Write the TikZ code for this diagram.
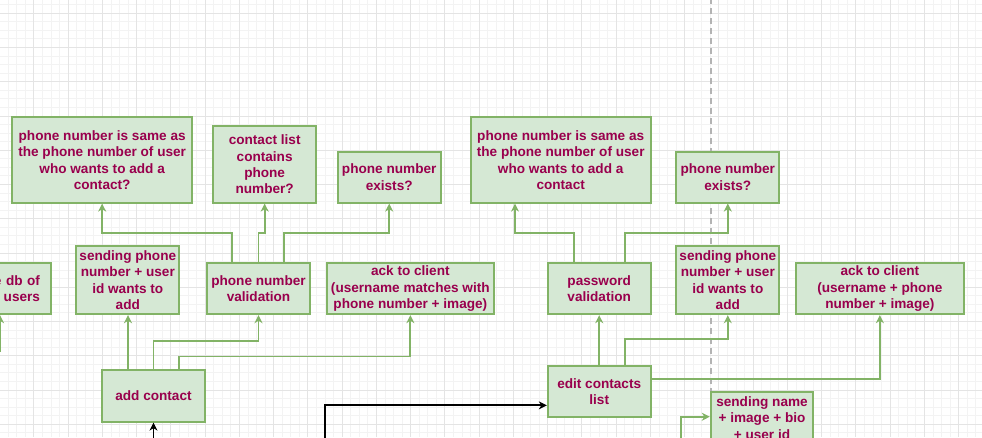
\documentclass[tikz,border=0pt]{standalone}
\usepackage{fontspec}
\setmainfont{Liberation Sans}
\usetikzlibrary{arrows.meta}
\definecolor{boxfill}{HTML}{D5E8D4}
\definecolor{boxline}{HTML}{82B366}
\definecolor{txt}{HTML}{99004D}
\definecolor{gridminor}{HTML}{F3F3F3}
\definecolor{gridmajor}{HTML}{E4E4E4}
\definecolor{sepline}{HTML}{B3B3B3}
\tikzset{
  box/.style={draw=boxline, fill=boxfill, line width=1.8pt, text=txt,
    font=\fontsize{13.6}{16.3}\selectfont\bfseries, align=center, inner sep=0pt},
  arr/.style={draw=boxline, line width=1.8pt, -{Stealth[length=8pt,width=8pt,inset=2.5pt]}},
  blk/.style={draw=black, line width=1.8pt, -{Stealth[length=8pt,width=8pt,inset=2.5pt]}},
  minorgrid/.style={draw=gridminor, line width=1pt},
  majorgrid/.style={draw=gridmajor, line width=1pt},
  sepstyle/.style={draw=sepline, line width=1.5pt, dash pattern=on 6pt off 4pt, dash phase=2pt}
}
\begin{document}
\begin{tikzpicture}[x=1pt,y=-1pt]
\useasboundingbox (0,0) rectangle (982,437);
\clip (0,0) rectangle (982,437);
\fill[white] (0,0) rectangle (982,437);
% grid
\foreach \i in {0,...,116} {\draw[minorgrid] ({-0.3+8.5625*\i},0) -- ({-0.3+8.5625*\i},437);}
\foreach \j in {0,...,51} {\draw[minorgrid] (0,{4.74+8.5625*\j}) -- (982,{4.74+8.5625*\j});}
\foreach \i in {0,...,29} {\draw[majorgrid] ({-0.3+34.25*\i},0) -- ({-0.3+34.25*\i},437);}
\foreach \j in {0,...,13} {\draw[majorgrid] (0,{13.3+34.25*\j}) -- (982,{13.3+34.25*\j});}
% separator
\coordinate (septop) at (711,0);
\coordinate (sepbot) at (711,437);
\draw[sepstyle] (septop) -- (sepbot);
% boxes
\node[box, minimum width=180.3pt, minimum height=85.4pt] (A) at (102.15,160) {phone number is same as\\the phone number of user\\who wants to add a\\contact?};
\node[box, minimum width=102.7pt, minimum height=76.7pt] (B) at (264.65,164.35) {contact list\\contains\\phone\\number?};
\node[box, minimum width=103pt, minimum height=51pt] (C) at (389.2,177.2) {phone number\\exists?};
\node[box, minimum width=103pt, minimum height=51pt, text width=81pt, align=right] (D) at (-0.5,288.8) {e db of\\users};
\node[box, minimum width=103pt, minimum height=68.6pt] (E) at (127.8,280) {sending phone\\number + user\\id wants to\\add};
\node[box, minimum width=103pt, minimum height=51pt] (F) at (258.5,288.8) {phone number\\validation};
\node[box, minimum width=167.3pt, minimum height=51pt] (G) at (410.35,288.8) {ack to client\\(username matches with\\phone number + image)};
\node[box, minimum width=103pt, minimum height=51.7pt] (H) at (153.5,395.85) {add contact};
\node[box, minimum width=180pt, minimum height=85.4pt] (I) at (560.7,160) {phone number is same as\\the phone number of user\\who wants to add a\\contact};
\node[box, minimum width=103pt, minimum height=51pt] (J) at (727.8,177.2) {phone number\\exists?};
\node[box, minimum width=103pt, minimum height=51pt] (K) at (599.2,288.8) {password\\validation};
\node[box, minimum width=103pt, minimum height=68.6pt] (L) at (727.8,280) {sending phone\\number + user\\id wants to\\add};
\node[box, minimum width=167.7pt, minimum height=51pt] (M) at (879.85,288.8) {ack to client\\(username + phone\\number + image)};
\node[box, minimum width=103pt, minimum height=51.3pt] (N) at (599.2,391.35) {edit contacts\\list};
\node[box, minimum width=102.6pt, minimum height=68.6pt] (O) at (762,426) {sending name\\+ image + bio\\+ user id\\\mbox{}};
% connectors, left group
\draw[arr] ([xshift=-25.5pt]H.north) -- ([xshift=-25.5pt]H.north |- E.south);
\draw[arr] (H.north) -- ++(0,-28.3) -| (F.south);
\draw[arr] ([xshift=25.5pt]H.north) -- ++(0,-12.7) -| (G.south);
\draw[arr] ([xshift=-26.2pt]F.north) -- ++(0,-29.3) -| (A.south);
\draw[arr] (F.north) -- ++(0,-29.3) -| (B.south);
\draw[arr] ([xshift=25.2pt]F.north) -- ++(0,-29.3) -| (C.south);
\coordinate (dstart) at (0,352);
\draw[arr] (dstart) -- (dstart |- D.south);
% connectors, right group
\draw[arr] ([xshift=-25.5pt]K.north) -- ++(0,-29.3) -| ([xshift=-45.7pt]I.south);
\draw[arr] ([xshift=25.5pt]K.north) -- ++(0,-29.3) -| (J.south);
\draw[arr] (N.north) -- (K.south);
\draw[arr] ([xshift=25.5pt]N.north) -- ++(0,-25.7) -| (L.south);
\draw[arr] ([yshift=12pt]N.east) -| (M.south);
\coordinate (ostart) at (681,450);
\draw[arr] (ostart) |- ([yshift=9.3pt]O.west);
% black connectors
\coordinate (hstart) at (153.5,450);
\draw[blk] (hstart) -- (H.south);
\coordinate (nstart) at (324.7,450);
\draw[blk] (nstart) |- ([yshift=-14pt]N.west);
\end{tikzpicture}
\end{document}
